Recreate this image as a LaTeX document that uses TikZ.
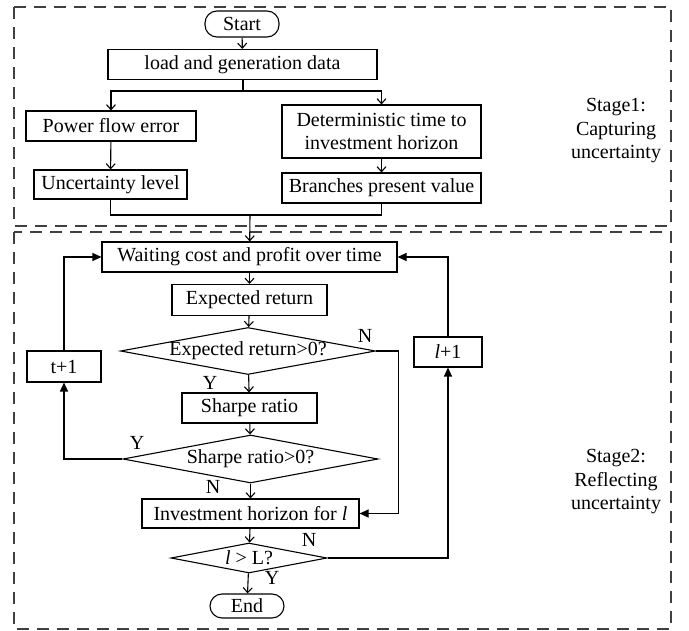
\documentclass[tikz,border=0pt]{standalone}
\usepackage{fontspec}
\setmainfont{Liberation Serif}
\usetikzlibrary{shapes.geometric,arrows.meta}

\begin{document}
\begin{tikzpicture}[x=1pt, y=-1pt, line width=1.1pt,
		font=\fontsize{20}{23.5}\selectfont,
		box/.style={draw, rectangle, inner sep=2pt, minimum height=30pt},
		term/.style={draw, rectangle, rounded corners=12pt, minimum width=74pt, minimum height=26pt, inner sep=1pt},
		test/.style={draw, diamond, inner sep=0pt},
		flow/.style={-{Straight Barb[length=5pt, width=9pt]}},
		push/.style={-{Triangle[length=9pt, width=8pt]}},
		stagebox/.style={draw=black!75, line width=1.6pt, dash pattern=on 12pt off 8pt},
		tag/.style={inner sep=0pt}]
	\useasboundingbox (0,0) rectangle (689,631);
	\draw[stagebox] (14,7) rectangle (671,226);
	\draw[stagebox] (14,232) rectangle (671,629);
	\node[term] (start) at (242,24) {Start};
	\node[box, minimum width=269pt] (load) at (242.5,64.5) {load and generation data};
	\node[box, minimum width=170pt] (pfe) at (111,126) {Power flow error};
	\node[box, minimum width=199pt, minimum height=53pt, align=center] (det) at (381.5,131.5) {Deterministic time to\\investment horizon};
	\node[box, minimum width=153pt, minimum height=29pt] (unc) at (110.5,184.5) {Uncertainty level};
	\node[box, minimum width=199pt] (bpv) at (381.5,188) {Branches present value};
	\node[align=center] (stage1) at (616,131) {Stage1:\\Capturing\\uncertainty};
	\coordinate (split) at (243,91);
	\coordinate (merge) at (250,215);
	\draw[flow] (start) -- (load);
	\draw (load.south -| split) -- (split);
	\draw[flow] (split) -| (pfe);
	\draw[flow] (split) -| (det);
	\draw[flow] (pfe) -- (unc);
	\draw[flow] (det) -- (bpv);
	\draw (unc) |- (merge) -| (bpv);
	\node[box, minimum width=295pt] (wait) at (249.5,257) {Waiting cost and profit over time};
	\node[box, minimum width=155pt, minimum height=31pt] (expret) at (249.5,300) {Expected return};
	\node[test, minimum width=255pt, minimum height=47pt] (dia1) at (248,351) {\makebox[0pt]{Expected return>0?}};
	\node[box, minimum width=135pt] (sharpe) at (249.5,408) {Sharpe ratio};
	\node[test, minimum width=255pt, minimum height=48pt] (dia2) at (250.5,459) {\makebox[0pt]{Sharpe ratio>0?}};
	\node[box, minimum width=217pt, minimum height=29pt] (inv) at (250.5,513.5) {Investment horizon for \textit{l}};
	\node[test, minimum width=156pt, minimum height=30pt] (dia3) at (249,558) {\makebox[0pt]{\textit{l} > L?}};
	\node[term, minimum height=24pt] (end) at (247,606) {End};
	\node[box, minimum width=74pt, minimum height=31pt] (tp1) at (64,366.5) {t+1};
	\node[box, minimum width=68pt] (lp1) at (448,352) {\textit{l}+1};
	\node[align=center] (stage2) at (616,482) {Stage2:\\Reflecting\\uncertainty};
	\node[tag] (n1) at (365,336) {N};
	\node[tag] (y1) at (210,383) {Y};
	\node[tag] (y2) at (137,443) {Y};
	\node[tag] (n2) at (213,487) {N};
	\node[tag] (n3) at (309,540) {N};
	\node[tag] (y3) at (272,578) {Y};
	\draw[flow] (merge) -- (wait);
	\draw[flow] (wait) -- (expret);
	\draw[flow] (expret) -- (dia1);
	\draw[flow] (dia1) -- (sharpe);
	\draw[flow] (sharpe) -- (dia2);
	\draw[flow] (dia2) -- (inv);
	\draw[flow] (inv) -- (dia3);
	\draw[flow] (dia3) -- (end);
	\draw[push] (dia1.east) -- ++(22,0) |- (inv.east);
	\draw[push] (dia2.west) -| (tp1);
	\draw[push] (tp1) |- (wait);
	\draw[push] (dia3.east) -| (lp1);
	\draw[push] (lp1) |- (wait);
\end{tikzpicture}
\end{document}
